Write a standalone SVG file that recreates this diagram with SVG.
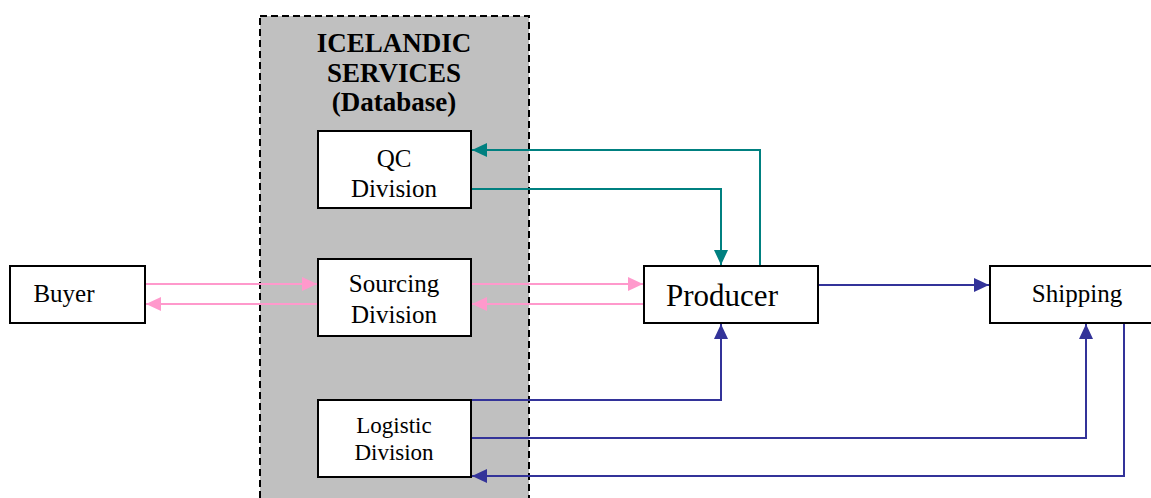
<svg xmlns="http://www.w3.org/2000/svg" width="1151" height="498" viewBox="0 0 1151 498">
<style>
.box{fill:#fff;stroke:#000;stroke-width:2}
.t{font-family:"Liberation Serif","Times New Roman",serif;fill:#000;text-anchor:middle}
.pink{fill:none;stroke:#FF99CC;stroke-width:2}
.teal{fill:none;stroke:#008080;stroke-width:2}
.navy{fill:none;stroke:#333399;stroke-width:2}
</style>
<defs>
<marker id="ap" markerUnits="userSpaceOnUse" markerWidth="16" markerHeight="14" refX="15" refY="7" orient="auto"><path d="M0,0 L15,7 L0,14 Z" fill="#FF99CC"/></marker>
<marker id="at" markerUnits="userSpaceOnUse" markerWidth="16" markerHeight="14" refX="15" refY="7" orient="auto"><path d="M0,0 L15,7 L0,14 Z" fill="#008080"/></marker>
<marker id="an" markerUnits="userSpaceOnUse" markerWidth="16" markerHeight="14" refX="15" refY="7" orient="auto"><path d="M0,0 L15,7 L0,14 Z" fill="#333399"/></marker>
</defs>
<rect width="1151" height="498" fill="#fff"/>
<g id="icelandic">
<rect x="260" y="16" width="269" height="500" fill="#C0C0C0" stroke="#000" stroke-width="2" stroke-dasharray="7,4"/>
<text class="t" x="394" y="52" font-size="27" font-weight="bold">ICELANDIC</text>
<text class="t" x="394" y="82" font-size="27" font-weight="bold">SERVICES</text>
<text class="t" x="394" y="111" font-size="27" font-weight="bold">(Database)</text>
</g>
<g id="connectors">
<line class="pink" x1="146" y1="284" x2="317" y2="284" marker-end="url(#ap)"/>
<line class="pink" x1="317" y1="304" x2="146" y2="304" marker-end="url(#ap)"/>
<line class="pink" x1="472" y1="284" x2="643" y2="284" marker-end="url(#ap)"/>
<line class="pink" x1="643" y1="304" x2="472" y2="304" marker-end="url(#ap)"/>
<polyline class="teal" points="760,266 760,150 472,150" marker-end="url(#at)"/>
<polyline class="teal" points="472,189 721,189 721,265" marker-end="url(#at)"/>
<line class="navy" x1="819" y1="285" x2="989" y2="285" marker-end="url(#an)"/>
<polyline class="navy" points="472,400 721,400 721,324" marker-end="url(#an)"/>
<polyline class="navy" points="472,438 1086,438 1086,324" marker-end="url(#an)"/>
<polyline class="navy" points="1124,323 1124,476 472,476" marker-end="url(#an)"/>
</g>
<g id="buyer">
<rect class="box" x="10" y="266" width="135" height="57"/>
<text class="t" x="64" y="302" font-size="25">Buyer</text>
</g>
<g id="qc">
<rect class="box" x="318" y="131" width="153" height="77"/>
<text class="t" x="394" y="167" font-size="25">QC</text>
<text class="t" x="394" y="197" font-size="25">Division</text>
</g>
<g id="sourcing">
<rect class="box" x="318" y="259" width="153" height="77"/>
<text class="t" x="394" y="292" font-size="25">Sourcing</text>
<text class="t" x="394" y="323" font-size="25">Division</text>
</g>
<g id="logistic">
<rect class="box" x="318" y="400" width="153" height="77"/>
<text class="t" x="394" y="433" font-size="23">Logistic</text>
<text class="t" x="394" y="460" font-size="23">Division</text>
</g>
<g id="producer">
<rect class="box" x="644" y="266" width="174" height="57"/>
<text class="t" x="722" y="306" font-size="31">Producer</text>
</g>
<g id="shipping">
<rect class="box" x="990" y="266" width="170" height="57"/>
<text class="t" x="1077" y="302" font-size="25">Shipping</text>
</g>
</svg>
